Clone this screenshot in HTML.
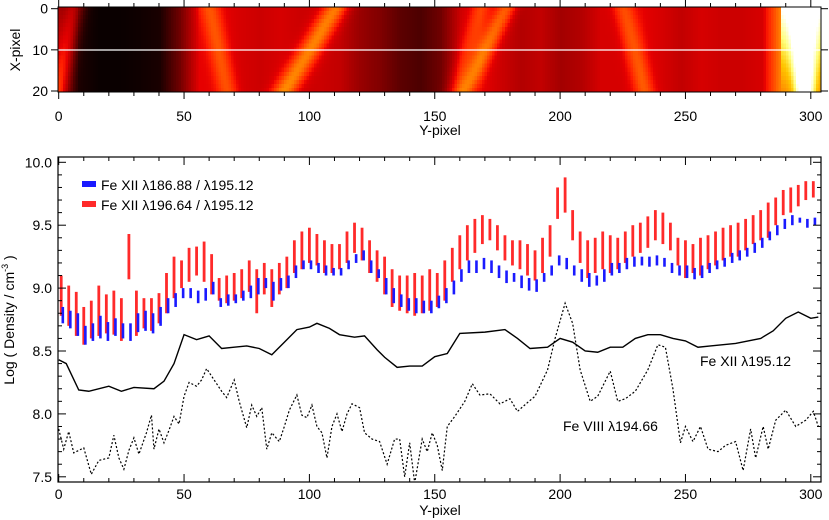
<!DOCTYPE html>
<html><head><meta charset="utf-8">
<style>
body{margin:0;background:#fff;width:829px;height:520px;overflow:hidden;position:relative;font-family:"Liberation Sans",sans-serif}
#hm{position:absolute;left:58px;top:7px;width:763px;height:85px;image-rendering:pixelated}
svg{position:absolute;left:0;top:0}
text{font-family:"Liberation Sans",sans-serif;font-size:14px;fill:#000}
</style></head><body>
<canvas id="hm" width="304" height="21"></canvas>
<svg id="chart" width="829" height="520"></svg>
<script>
// ---- heatmap data ----
const hmBaseCols=[0,8,16,24,32,40,48,56,64,72,80,88,96,104,112,120,128,136,144,152,160,168,176,184,192,200,208,216,224,232,240,248,256,264,272,280,288,296,304];
const hmBase=[0.3,0.05,0.02,0.02,0.03,0.05,0.22,0.45,0.45,0.42,0.4,0.42,0.4,0.4,0.38,0.3,0.25,0.18,0.15,0.22,0.4,0.45,0.4,0.35,0.38,0.32,0.35,0.42,0.42,0.45,0.42,0.38,0.42,0.4,0.4,0.42,0.7,0.75,0.7];
const ridgeX0=[6,110,60,178,168,225,296];
const ridgeX20=[0,90,67,162,158,233,297];
const ridgeAmp=[0.25,0.28,0.15,0.22,0.12,0.16,0.4];
const ridgeW=[4,5,4,4,4,4,4];
// ---- density data ----
const yPix=[];for(let i=0;i<=100;i++)yPix.push(1+3*i);
const redLo=[8.78,8.70,8.62,8.55,8.60,8.62,8.64,8.63,8.58,9.07,8.62,8.68,8.66,8.72,8.80,8.92,9.00,9.05,9.10,9.05,8.95,8.90,8.88,8.90,8.92,8.97,8.80,8.95,8.85,8.95,9.00,9.12,9.15,9.20,9.18,9.12,9.12,9.15,9.20,9.28,9.22,9.12,9.05,8.95,8.85,8.82,8.80,8.78,8.80,8.82,8.85,8.90,9.05,9.15,9.22,9.28,9.35,9.38,9.30,9.22,9.18,9.15,9.10,9.06,9.12,9.25,9.55,9.60,9.38,9.20,9.08,9.12,9.15,9.12,9.15,9.20,9.25,9.28,9.32,9.38,9.35,9.30,9.18,9.08,9.12,9.10,9.15,9.18,9.22,9.25,9.25,9.30,9.35,9.38,9.40,9.50,9.58,9.60,9.65,9.70,9.72];
const redHi=[9.10,9.02,8.97,8.85,8.90,9.02,8.95,8.98,8.92,9.43,8.98,8.92,8.92,8.96,9.12,9.25,9.22,9.32,9.33,9.37,9.27,9.08,9.10,9.12,9.15,9.22,9.15,9.20,9.15,9.20,9.25,9.38,9.45,9.48,9.43,9.38,9.35,9.35,9.45,9.52,9.48,9.38,9.30,9.25,9.15,9.10,9.10,9.12,9.10,9.15,9.12,9.22,9.32,9.42,9.50,9.55,9.58,9.55,9.50,9.42,9.38,9.38,9.35,9.30,9.40,9.50,9.80,9.88,9.62,9.45,9.38,9.40,9.45,9.42,9.40,9.45,9.50,9.52,9.57,9.62,9.60,9.52,9.40,9.38,9.35,9.40,9.42,9.45,9.48,9.50,9.52,9.55,9.58,9.62,9.68,9.72,9.78,9.80,9.82,9.85,9.85];
const blueLo=[8.72,8.68,8.62,8.55,8.58,8.60,8.58,8.62,8.60,8.58,8.65,8.66,8.64,8.70,8.80,8.85,8.92,8.92,8.88,8.90,8.95,8.85,8.86,8.88,8.90,8.92,8.95,9.00,8.90,8.98,9.00,9.08,9.15,9.15,9.12,9.10,9.10,9.10,9.15,9.20,9.22,9.12,9.08,8.95,8.88,8.85,8.82,8.80,8.80,8.80,8.84,8.88,8.95,9.05,9.12,9.12,9.15,9.12,9.08,9.04,9.05,9.00,8.98,8.97,9.05,9.10,9.18,9.15,9.10,9.05,9.01,9.02,9.05,9.10,9.12,9.15,9.17,9.18,9.17,9.18,9.17,9.12,9.10,9.08,9.07,9.08,9.12,9.15,9.17,9.20,9.22,9.25,9.28,9.32,9.38,9.42,9.47,9.50,9.52,9.48,9.50];
const blueHi=[8.85,8.82,8.80,8.70,8.72,8.78,8.73,8.76,8.72,8.72,8.80,8.82,8.80,8.85,8.92,8.96,9.00,9.00,8.98,9.00,9.05,8.92,8.95,8.95,8.98,9.02,9.08,9.08,9.05,9.08,9.10,9.18,9.22,9.22,9.20,9.18,9.16,9.16,9.22,9.27,9.30,9.22,9.15,9.08,9.00,8.95,8.92,8.92,8.90,8.90,8.94,9.00,9.06,9.15,9.22,9.22,9.24,9.22,9.18,9.14,9.12,9.10,9.08,9.07,9.12,9.18,9.26,9.24,9.18,9.15,9.12,9.10,9.15,9.20,9.20,9.24,9.25,9.25,9.25,9.26,9.24,9.20,9.18,9.18,9.16,9.18,9.20,9.22,9.24,9.28,9.30,9.32,9.36,9.40,9.45,9.50,9.55,9.58,9.56,9.55,9.56];
const solidX=[0,3,8,12,20,25,30,38,42,46,50,55,60,65,70,75,80,85,90,95,100,103,108,112,118,122,127,130,135,140,145,150,155,160,170,178,183,188,195,200,205,210,215,220,225,230,235,240,245,250,255,260,270,280,285,290,295,300,303];
const solidV=[8.43,8.40,8.19,8.18,8.22,8.18,8.21,8.20,8.26,8.40,8.63,8.59,8.62,8.52,8.53,8.54,8.52,8.47,8.57,8.67,8.69,8.72,8.68,8.63,8.61,8.62,8.51,8.45,8.37,8.38,8.38,8.455,8.48,8.64,8.65,8.67,8.60,8.52,8.53,8.60,8.57,8.50,8.49,8.53,8.53,8.60,8.63,8.63,8.60,8.58,8.53,8.54,8.56,8.60,8.66,8.76,8.81,8.76,8.77];
const dotX=[0,2,4,6,10,13,16,20,22,24,26,28,30,32,35,37,38,40,42,44,46,48,50,52,55,57,59,62,65,67,70,72,75,77,79,81,83,85,88,90,92,95,97,99,101,103,105,107,109,111,113,115,117,120,122,125,128,131,134,136,138,140,142,145,147,149,151,153,155,158,162,165,168,172,176,180,183,187,190,195,198,202,205,208,212,215,220,223,226,230,235,239,242,245,248,250,253,256,259,263,266,270,273,276,278,281,283,286,290,294,298,301,303];
const dotV=[7.88,7.72,7.86,7.69,7.73,7.52,7.63,7.65,7.83,7.65,7.56,7.71,7.81,7.68,7.85,7.99,7.72,7.88,7.77,7.87,7.98,7.92,8.14,8.25,8.22,8.27,8.36,8.27,8.18,8.13,8.27,8.10,7.89,8.07,7.98,8.05,7.72,7.85,7.78,7.90,8.03,8.15,7.99,7.97,8.07,7.90,7.85,7.65,7.90,8.00,7.86,8.00,8.08,8.05,7.85,7.80,7.78,7.60,7.80,7.80,7.50,7.77,7.45,7.80,7.70,7.85,7.75,7.55,7.90,7.98,8.10,8.24,8.15,8.16,8.08,8.12,8.02,8.09,8.14,8.35,8.60,8.88,8.72,8.35,8.10,8.14,8.34,8.10,8.12,8.18,8.35,8.55,8.53,8.20,7.77,7.90,7.78,7.90,7.72,7.70,7.75,7.78,7.55,7.88,7.65,7.90,7.72,7.95,8.03,7.90,7.95,8.02,7.90];
const xTicks=[0,50,100,150,200,250,300];
const yTicks=[7.5,8.0,8.5,9.0,9.5,10.0];
const rowTicks=[0,10,20];

// ---- heatmap render ----
(function(){
  const c=document.getElementById('hm').getContext('2d');
  const img=c.createImageData(304,21);
  function base(x){let i=Math.min(hmBaseCols.length-2,Math.floor(x/8));let t=(x-hmBaseCols[i])/8;return hmBase[i]*(1-t)+hmBase[i+1]*t;}
  const cl=v=>Math.max(0,Math.min(1,v));
  for(let r=0;r<21;r++)for(let x=0;x<304;x++){
    let v=base(x);
    for(let k=0;k<ridgeX0.length;k++){const cx=ridgeX0[k]+(ridgeX20[k]-ridgeX0[k])*r/20;const d=(x-cx)/ridgeW[k];v+=ridgeAmp[k]*Math.exp(-d*d);}
    if(x>287)v+=(20-r)/20*0.3;
    const t=cl(v);const p=(r*304+x)*4;
    img.data[p]=255*cl(t/0.5);img.data[p+1]=255*cl((t-0.45)/0.45);img.data[p+2]=255*cl((t-0.8)/0.2);img.data[p+3]=255;
  }
  c.putImageData(img,0,0);
})();

// ---- svg ----
const NS='http://www.w3.org/2000/svg';const svg=document.getElementById('chart');
function mk(tag,at,parent){const e=document.createElementNS(NS,tag);for(const k in at)e.setAttribute(k,at[k]);(parent||svg).appendChild(e);return e;}
const X=u=>58.7+u*2.507;
const Y=v=>162.3+(10-v)*125.8;
const R=r=>8.7+r*4.115;
let e=mk('line',{x1:58,y1:50,x2:821,y2:50,stroke:'#fff','stroke-width':1.3});

e=mk('rect',{x:58,y:7,width:763,height:85,fill:'none',stroke:'#000','stroke-width':1});

for(let u=0;u<=300;u+=10){const L=u%50==0?7:4;
  mk('line',{x1:X(u),x2:X(u),y1:7,y2:7-L,stroke:'#000'});mk('line',{x1:X(u),x2:X(u),y1:92,y2:92+L,stroke:'#000'});}
rowTicks.forEach(r=>{mk('line',{x1:58,x2:51,y1:R(r),y2:R(r),stroke:'#000'});mk('line',{x1:821,x2:828,y1:R(r),y2:R(r),stroke:'#000'});
  e=mk('text',{x:48,y:R(r)+5,'text-anchor':'end'});e.textContent=r;});
xTicks.forEach(u=>{e=mk('text',{x:X(u),y:121,'text-anchor':'middle'});e.textContent=u;});
e=mk('text',{x:440,y:135,'text-anchor':'middle'});e.textContent='Y-pixel';
e=mk('text',{x:0,y:0,'text-anchor':'middle',transform:'translate(20,50) rotate(-90)'});e.textContent='X-pixel';

const defs=mk('defs',{});const cp=mk('clipPath',{id:'pc'},defs);mk('rect',{x:58,y:157,width:763,height:325},cp);
const g=mk('g',{'clip-path':'url(#pc)'});

yPix.forEach((u,i)=>{const b=mk('rect',{x:X(u)-1.4,y:Y(redHi[i]),width:2.8,height:Y(redLo[i])-Y(redHi[i]),fill:'#ff2a2a'},g);
  });
yPix.forEach((u,i)=>{const b=mk('rect',{x:X(u)+0.3,y:Y(blueHi[i]),width:2.6,height:Y(blueLo[i])-Y(blueHi[i]),fill:'#1a1aff'},g);
  });
e=mk('polyline',{points:solidX.map((u,i)=>X(u)+','+Y(solidV[i])).join(' '),fill:'none',stroke:'#000','stroke-width':1.4},g);

e=mk('polyline',{points:dotX.map((u,i)=>X(u)+','+Y(dotV[i])).join(' '),fill:'none',stroke:'#000','stroke-width':1.2,'stroke-dasharray':'2,2'},g);

e=mk('rect',{x:58,y:157,width:763,height:325,fill:'none',stroke:'#000','stroke-width':1.2});

for(let u=0;u<=300;u+=10){const L=u%50==0?8:4;
  mk('line',{x1:X(u),x2:X(u),y1:157,y2:157+L,stroke:'#000'});mk('line',{x1:X(u),x2:X(u),y1:482,y2:482-L,stroke:'#000'});}
for(let k=75;k<=100;k++){const v=k/10;const L=(k%5==0)?8:4;
  mk('line',{x1:58,x2:58+L,y1:Y(v),y2:Y(v),stroke:'#000'});mk('line',{x1:821,x2:821-L,y1:Y(v),y2:Y(v),stroke:'#000'});}
yTicks.forEach(v=>{e=mk('text',{x:52,y:Y(v)+5,'text-anchor':'end'});e.textContent=v.toFixed(1);});
xTicks.forEach(u=>{e=mk('text',{x:X(u),y:499,'text-anchor':'middle'});e.textContent=u;});
e=mk('text',{x:440,y:515,'text-anchor':'middle'});e.textContent='Y-pixel';
e=mk('text',{x:0,y:0,'text-anchor':'middle',transform:'translate(14,320) rotate(-90)'});
e.innerHTML='Log ( Density / cm<tspan dy="-6" font-size="9">-3</tspan><tspan dy="6"> )</tspan>';

e=mk('rect',{x:82,y:181,width:14,height:6,fill:'#1a1aff'});
e=mk('text',{x:101,y:190});e.textContent='Fe XII λ186.88 / λ195.12';
e=mk('rect',{x:82,y:201,width:14,height:6,fill:'#ff2a2a'});
e=mk('text',{x:101,y:210});e.textContent='Fe XII λ196.64 / λ195.12';
e=mk('text',{x:700,y:366});e.textContent='Fe XII λ195.12';
e=mk('text',{x:563,y:431});e.textContent='Fe VIII λ194.66';
</script>
</body></html>
